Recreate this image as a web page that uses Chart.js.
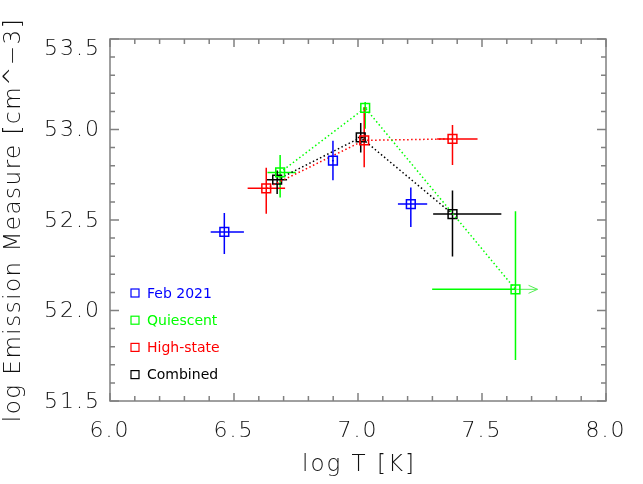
<!DOCTYPE html>
<html>
<head>
<meta charset="utf-8">
<script src="https://cdn.jsdelivr.net/npm/chart.js@4.4.1/dist/chart.umd.min.js"></script>
<style>
  html, body { margin: 0; padding: 0; background: #fff; }
  #wrap { width: 643px; height: 484px; }
</style>
</head>
<body>
<div id="wrap"><canvas id="chart" width="643" height="484"></canvas></div>
<script>
// ===== Data =====
const xTicks = [6.0, 6.5, 7.0, 7.5, 8.0];
const yTicks = [51.5, 52.0, 52.5, 53.0, 53.5];
const seriesNames = ['Feb 2021', 'Quiescent', 'High-state', 'Combined'];
const seriesColors = ['#0000ff', '#00ff00', '#ff0000', '#000000'];

// Feb 2021
const febT     = [6.461, 6.899, 7.213];
const febEM    = [52.434, 52.828, 52.588];
const febTLo   = [0.055, 0.004, 0.052];
const febTHi   = [0.079, 0.004, 0.066];
const febEMLo  = [0.122, 0.109, 0.127];
const febEMHi  = [0.105, 0.110, 0.092];

// Quiescent
const quiT     = [6.686, 7.029, 7.635];
const quiEM    = [52.763, 53.119, 52.117];
const quiTLo   = [0.051, 0.008, 0.336];
const quiTHi   = [0.063, 0.008, 0.0];
const quiEMLo  = [0.138, 0.115, 0.390];
const quiEMHi  = [0.096, 0.033, 0.431];
const quiTArrow = [0, 0, 0.089];   // lower limit arrow to the right

// High-state
const hsT      = [6.630, 7.025, 7.381];
const hsEM     = [52.675, 52.940, 52.948];
const hsTLo    = [0.075, 0.008, 0.062];
const hsTHi    = [0.076, 0.008, 0.101];
const hsEMLo   = [0.140, 0.149, 0.144];
const hsEMHi   = [0.113, 0.181, 0.077];

// Combined
const combT    = [6.674, 7.011, 7.381];
const combEM   = [52.723, 52.956, 52.533];
const combTLo  = [0.041, 0.012, 0.078];
const combTHi  = [0.040, 0.012, 0.197];
const combEMLo = [0.079, 0.083, 0.234];
const combEMHi = [0.051, 0.080, 0.130];

const series = [
  { t: febT,  em: febEM,  tLo: febTLo,  tHi: febTHi,  emLo: febEMLo,  emHi: febEMHi,  line: false },
  { t: quiT,  em: quiEM,  tLo: quiTLo,  tHi: quiTHi,  emLo: quiEMLo,  emHi: quiEMHi,  line: true, arrow: quiTArrow },
  { t: hsT,   em: hsEM,   tLo: hsTLo,   tHi: hsTHi,   emLo: hsEMLo,   emHi: hsEMHi,   line: true },
  { t: combT, em: combEM, tLo: combTLo, tHi: combTHi, emLo: combEMLo, emHi: combEMHi, line: true }
];

const FONT = '"DejaVu Sans", "Liberation Sans", sans-serif';
const FRAME = '#808080';

// ===== Error bars (under the symbols) =====
const errorBars = {
  id: 'errorBars',
  beforeDatasetsDraw(chart) {
    const ctx = chart.ctx, xs = chart.scales.x, ys = chart.scales.y;
    series.forEach((s, k) => {
      ctx.save();
      ctx.strokeStyle = seriesColors[k];
      ctx.lineWidth = 1.5;
      s.t.forEach((t, i) => {
        const px = xs.getPixelForValue(t), py = ys.getPixelForValue(s.em[i]);
        ctx.beginPath();
        ctx.moveTo(xs.getPixelForValue(t - s.tLo[i]), py);
        ctx.lineTo(xs.getPixelForValue(t + s.tHi[i]), py);
        ctx.moveTo(px, ys.getPixelForValue(s.em[i] - s.emLo[i]));
        ctx.lineTo(px, ys.getPixelForValue(s.em[i] + s.emHi[i]));
        ctx.stroke();
        if (s.arrow && s.arrow[i] > 0) {
          const tip = xs.getPixelForValue(t + s.arrow[i]);
          ctx.save();
          ctx.lineWidth = 1;
          ctx.strokeStyle = '#55ee55';
          ctx.beginPath();
          ctx.moveTo(px, py); ctx.lineTo(tip, py);
          ctx.moveTo(tip - 9, py - 4); ctx.lineTo(tip, py); ctx.lineTo(tip - 9, py + 4);
          ctx.stroke();
          ctx.restore();
        }
      });
      ctx.restore();
    });
  }
};

// ===== Box, inward ticks, y labels, legend, axis titles =====
const frameAndText = {
  id: 'frameAndText',
  beforeDraw(chart) { chart.ctx.letterSpacing = '2px'; },
  afterDraw(chart) {
    const ctx = chart.ctx, a = chart.chartArea, xs = chart.scales.x, ys = chart.scales.y;
    ctx.save();
    ctx.letterSpacing = '0px';
    ctx.strokeStyle = FRAME;
    ctx.lineWidth = 1.5;
    ctx.strokeRect(a.left, a.top, a.right - a.left, a.bottom - a.top);
    ctx.beginPath();
    for (let i = 0; i <= 20; i++) {
      const v = xTicks[0] + i * 0.1, px = xs.getPixelForValue(v);
      const len = i % 5 === 0 ? 8 : 5;
      ctx.moveTo(px, a.bottom); ctx.lineTo(px, a.bottom - len);
      ctx.moveTo(px, a.top); ctx.lineTo(px, a.top + len);
    }
    for (let i = 0; i <= 20; i++) {
      const v = yTicks[0] + i * 0.1, py = ys.getPixelForValue(v);
      const len = i % 5 === 0 ? 9 : 5;
      ctx.moveTo(a.left, py); ctx.lineTo(a.left + len, py);
      ctx.moveTo(a.right, py); ctx.lineTo(a.right - len, py);
    }
    ctx.stroke();

    // y tick labels (top one sits just inside the box, as in the original)
    ctx.fillStyle = '#111';
    ctx.font = '200 22px ' + FONT;
    ctx.letterSpacing = '2px';
    ctx.textAlign = 'right';
    ctx.textBaseline = 'middle';
    yTicks.forEach((v, i) => {
      let py = ys.getPixelForValue(v);
      if (i === yTicks.length - 1) py += 9;
      ctx.fillText(v.toFixed(1), a.left - 9, py + 1);
    });

    // legend
    ctx.letterSpacing = '0px';
    ctx.font = '14px ' + FONT;
    ctx.textAlign = 'left';
    ctx.lineWidth = 1.2;
    seriesNames.forEach((name, k) => {
      const y = a.bottom - 108 + k * 27.2, x = a.left + 25;
      ctx.strokeStyle = seriesColors[k];
      ctx.fillStyle = seriesColors[k];
      ctx.strokeRect(x - 4, y - 4, 8, 8);
      ctx.fillText(name, a.left + 37, y + 1);
    });

    // axis titles
    ctx.fillStyle = '#111';
    ctx.font = '200 23px ' + FONT;
    ctx.textBaseline = 'alphabetic';
    ctx.textAlign = 'center';
    ctx.letterSpacing = '2px';
    ctx.fillText('log T [K]', (a.left + a.right) / 2 + 1, 471);
    ctx.translate(20, (a.top + a.bottom) / 2);
    ctx.rotate(-Math.PI / 2);
    ctx.letterSpacing = '1.5px';
    ctx.fillText('log Emission Measure [cm^\u22123]', 0, 0);
    ctx.restore();
  }
};

const datasets = series.map((s, k) => ({
  label: seriesNames[k],
  data: s.t.map((t, i) => ({ x: t, y: s.em[i] })),
  showLine: s.line,
  borderColor: seriesColors[k],
  backgroundColor: 'transparent',
  borderWidth: 1.5,
  borderDash: [1.5, 2.5],
  pointStyle: 'rect',
  pointRadius: 6.2,
  pointBorderWidth: 1.5,
  pointBorderColor: seriesColors[k],
  pointBackgroundColor: 'transparent'
}));

new Chart(document.getElementById('chart'), {
  type: 'scatter',
  data: { datasets },
  options: {
    responsive: false,
    animation: false,
    devicePixelRatio: 1,
    layout: { padding: { top: 39, right: 37, left: 0, bottom: 0 } },
    plugins: { legend: { display: false }, tooltip: { enabled: false } },
    scales: {
      x: {
        min: 6, max: 8,
        afterBuildTicks: sc => { sc.ticks = xTicks.map(v => ({ value: v })); },
        afterFit: sc => { sc.height = 83; },
        grid: { display: false, drawTicks: false },
        border: { display: false },
        ticks: { callback: v => v.toFixed(1), padding: 17, color: '#111', font: { family: FONT, size: 22, weight: '200' }, maxRotation: 0 }
      },
      y: {
        min: 51.5, max: 53.5,
        afterBuildTicks: sc => { sc.ticks = yTicks.map(v => ({ value: v })); },
        afterFit: sc => { sc.width = 110; },
        grid: { display: false, drawTicks: false },
        border: { display: false },
        ticks: { display: false }
      }
    }
  },
  plugins: [errorBars, frameAndText]
});
</script>
</body>
</html>
